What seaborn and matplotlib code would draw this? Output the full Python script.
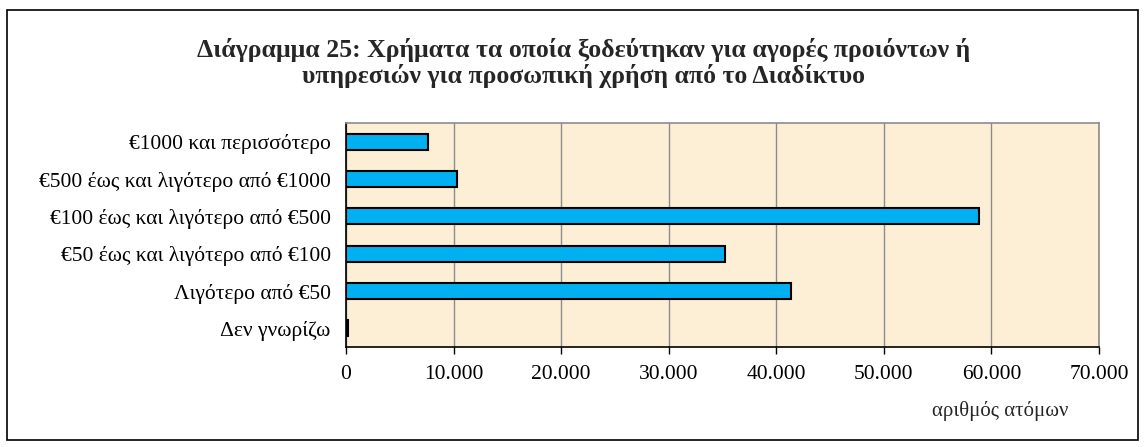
import pandas as pd
import matplotlib.pyplot as plt
import matplotlib.ticker as mticker
from matplotlib.patches import Rectangle
import seaborn as sns

categories = [
    '€1000 και περισσότερο',
    '€500 έως και λιγότερο από €1000',
    '€100 έως και λιγότερο από €500',
    '€50 έως και λιγότερο από €100',
    'Λιγότερο από €50',
    'Δεν γνωρίζω',
]
persons = [7600, 10300, 58800, 35200, 41400, 150]
x_ticks = [0, 10000, 20000, 30000, 40000, 50000, 60000, 70000]

df = pd.DataFrame({'Κατηγορία': categories, 'Άτομα': persons})

sns.set_theme(style='white')
plt.rcParams['font.family'] = ['Liberation Serif', 'DejaVu Serif']

fig = plt.figure(figsize=(11.46, 4.47), dpi=100)
ax = fig.add_axes([346 / 1146, 1 - 347 / 447, 753 / 1146, 224 / 447])
ax.set_facecolor('#fcefd6')

sns.barplot(data=df, y='Κατηγορία', x='Άτομα', orient='h', color='#00b0f0',
            saturation=1, width=0.42, edgecolor='black', linewidth=1.5, ax=ax, zorder=3)

ax.set_xlim(0, 70000)
ax.set_ylim(5.5, -0.5)
ax.set_xticks(x_ticks)
ax.xaxis.set_major_formatter(mticker.FuncFormatter(lambda v, p: f'{int(v):,}'.replace(',', '.')))
ax.grid(axis='x', color='#8c8c8c', linewidth=1, zorder=0)
ax.set_axisbelow(True)
ax.tick_params(axis='x', bottom=True, direction='out', length=5, width=1, color='black',
               labelsize=15.5, pad=8)
ax.tick_params(axis='y', left=False, labelsize=15.5, pad=5)
for lbl in ax.get_xticklabels() + ax.get_yticklabels():
    lbl.set_color('black')

for side in ['left', 'bottom']:
    ax.spines[side].set_color('black')
    ax.spines[side].set_linewidth(1.2)
for side in ['top', 'right']:
    ax.spines[side].set_color('#8c8c8c')
    ax.spines[side].set_linewidth(1.2)

ax.set_ylabel('')
ax.set_xlabel('')
fig.text(1000 / 1146, 1 - 411 / 447, 'αριθμός ατόμων', ha='center', va='center', fontsize=15)

fig.text(584 / 1146, 1 - 63 / 447,
         'Διάγραμμα 25: Χρήματα τα οποία ξοδεύτηκαν για αγορές προιόντων ή\n'
         'υπηρεσιών για προσωπική χρήση από το Διαδίκτυο',
         ha='center', va='center', fontsize=18.5, fontweight='bold', linespacing=1.1)

fig.patches.append(Rectangle((7 / 1146, 7 / 447), 1131 / 1146, 430 / 447, transform=fig.transFigure,
                             fill=False, edgecolor='black', linewidth=1.2))

fig.savefig('out.png', dpi=100)
